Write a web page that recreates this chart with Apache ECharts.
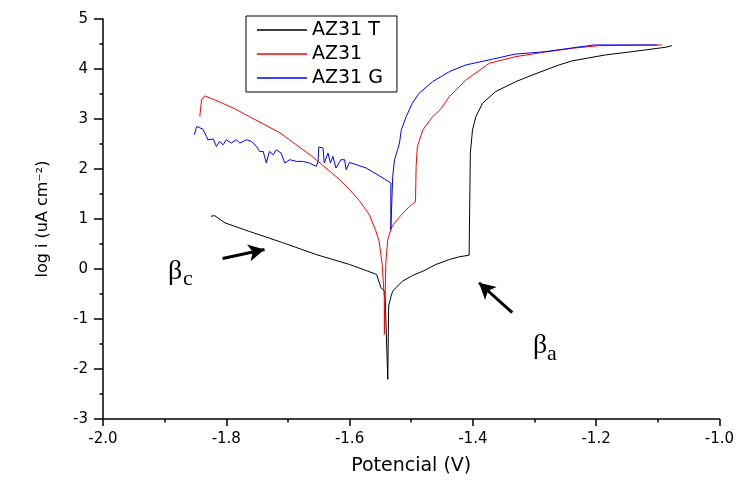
<!DOCTYPE html>
<html>
<head>
<meta charset="utf-8">
<script src="https://cdn.jsdelivr.net/npm/echarts@6/dist/echarts.min.js"></script>
<style>
  html, body { margin: 0; padding: 0; background: #fff; }
  #chart { width: 737px; height: 481px; }
</style>
</head>
<body>
<div id="chart"></div>
<script>
// [potential V, log i]
const az31T = [
  [-1.825, 1.054], [-1.819, 1.068], [-1.802, 0.922], [-1.762, 0.749], [-1.709, 0.529],
  [-1.654, 0.289], [-1.600, 0.090], [-1.573, -0.030], [-1.556, -0.110], [-1.549, -0.375],
  [-1.543, -0.443], [-1.542, -0.643], [-1.538, -2.206], [-1.5365, -0.743], [-1.5343, -0.709],
  [-1.5326, -0.543], [-1.530, -0.443], [-1.5245, -0.369], [-1.514, -0.244], [-1.498, -0.130],
  [-1.481, -0.044], [-1.460, 0.090], [-1.438, 0.190], [-1.422, 0.244], [-1.406, 0.276],
  [-1.404, 0.289], [-1.404, 2.319], [-1.4005, 2.784], [-1.395, 3.050], [-1.384, 3.317],
  [-1.363, 3.549], [-1.330, 3.749], [-1.303, 3.882], [-1.260, 4.082], [-1.239, 4.162],
  [-1.185, 4.281], [-1.1415, 4.347], [-1.139, 4.381], [-1.087, 4.435], [-1.077, 4.467]
];
const az31 = [
  [-1.843, 3.050], [-1.840, 3.383], [-1.835, 3.463], [-1.811, 3.343], [-1.786, 3.204],
  [-1.762, 3.044], [-1.713, 2.725], [-1.660, 2.246], [-1.616, 1.786], [-1.600, 1.587],
  [-1.584, 1.367], [-1.568, 1.088], [-1.558, 0.788], [-1.552, 0.549], [-1.547, 0.090],
  [-1.545, -0.309], [-1.5435, -0.609], [-1.5435, -1.307], [-1.5425, -0.609], [-1.541, 0.150],
  [-1.538, 0.589], [-1.532, 0.828], [-1.524, 0.968], [-1.514, 1.108], [-1.503, 1.248],
  [-1.493, 1.347], [-1.492, 2.046], [-1.490, 2.445], [-1.481, 2.784], [-1.465, 3.050],
  [-1.452, 3.198], [-1.438, 3.449], [-1.411, 3.782], [-1.373, 4.116], [-1.330, 4.248],
  [-1.282, 4.341], [-1.239, 4.415], [-1.195, 4.467], [-1.093, 4.481]
];
const az31G = [
  [-1.852, 2.685], [-1.848, 2.850], [-1.846, 2.864], [-1.838, 2.798], [-1.832, 2.651],
  [-1.830, 2.585], [-1.821, 2.599], [-1.816, 2.451], [-1.811, 2.551], [-1.805, 2.485],
  [-1.800, 2.585], [-1.792, 2.519], [-1.784, 2.585], [-1.778, 2.519], [-1.767, 2.585],
  [-1.759, 2.551], [-1.751, 2.451], [-1.746, 2.351], [-1.740, 2.351], [-1.735, 2.120],
  [-1.730, 2.351], [-1.724, 2.285], [-1.719, 2.385], [-1.711, 2.319], [-1.705, 2.120],
  [-1.697, 2.186], [-1.686, 2.152], [-1.676, 2.152], [-1.665, 2.120], [-1.654, 2.052],
  [-1.651, 2.152], [-1.650, 2.439], [-1.643, 2.419], [-1.641, 2.120], [-1.635, 2.319],
  [-1.631, 2.120], [-1.627, 2.252], [-1.622, 2.020], [-1.614, 2.186], [-1.608, 2.186],
  [-1.6055, 1.986], [-1.600, 2.132], [-1.573, 2.020], [-1.552, 1.866], [-1.533, 1.721],
  [-1.533, 0.788], [-1.530, 1.852], [-1.527, 2.186], [-1.522, 2.385], [-1.519, 2.519],
  [-1.516, 2.784], [-1.508, 3.050], [-1.498, 3.317], [-1.487, 3.517], [-1.465, 3.749],
  [-1.438, 3.948], [-1.411, 4.082], [-1.368, 4.196], [-1.333, 4.295], [-1.282, 4.347],
  [-1.2035, 4.481], [-1.101, 4.481]
];
const seriesNames = ['AZ31 T', 'AZ31', 'AZ31 G'];
const seriesColors = ['#000000', '#ff0000', '#0000ff'];
const xTicks = { min: -2.0, max: -1.0, step: 0.2 };
const yTicks = { min: -3, max: 5, step: 1 };
// arrows: [tail, head]
const arrowC = [[-1.806, 0.210], [-1.738, 0.389]];
const arrowA = [[-1.336, -0.874], [-1.390, -0.275]];

const chart = echarts.init(document.getElementById('chart'), null, { renderer: 'canvas' });

const font = 'DejaVu Sans';
const serif = 'Liberation Serif';

const option = {
  animation: false,
  backgroundColor: '#fff',
  grid: { left: 103, right: 16, top: 19, bottom: 61 },
  legend: {
    data: seriesNames,
    orient: 'vertical',
    left: 246,
    top: 16,
    padding: [4, 14, 4, 11],
    icon: 'rect',
    itemWidth: 50,
    itemHeight: 1.5,
    itemGap: 4,
    borderColor: '#000',
    borderWidth: 1,
    textStyle: { fontFamily: font, fontSize: 19, color: '#000', lineHeight: 20 }
  },
  xAxis: {
    type: 'value',
    min: xTicks.min,
    max: xTicks.max,
    interval: xTicks.step,
    name: 'Potencial (V)',
    nameLocation: 'middle',
    nameGap: 38,
    nameTextStyle: { fontFamily: font, fontSize: 19, color: '#000' },
    axisLine: { onZero: false, lineStyle: { color: '#000', width: 1.5 } },
    axisTick: { inside: false, length: 7, lineStyle: { color: '#000', width: 1.5 } },
    minorTick: { show: true, splitNumber: 2, length: 3.5, lineStyle: { color: '#000', width: 1.5 } },
    splitLine: { show: false },
    axisLabel: {
      fontFamily: font, fontSize: 15, color: '#000', margin: 13,
      formatter: v => v.toFixed(1)
    }
  },
  yAxis: {
    type: 'value',
    min: yTicks.min,
    max: yTicks.max,
    interval: yTicks.step,
    name: 'log i (uA cm\u207B\u00B2)',
    nameLocation: 'middle',
    nameGap: 52,
    nameTextStyle: { fontFamily: font, fontSize: 16, color: '#000' },
    axisLine: { onZero: false, lineStyle: { color: '#000', width: 1.5 } },
    axisTick: { inside: false, length: 9, lineStyle: { color: '#000', width: 1.5 } },
    minorTick: { show: true, splitNumber: 2, length: 3.5, lineStyle: { color: '#000', width: 1.5 } },
    splitLine: { show: false },
    axisLabel: { fontFamily: font, fontSize: 15, color: '#000', margin: 15 }
  },
  series: [az31T, az31, az31G].map((d, i) => ({
    name: seriesNames[i],
    type: 'line',
    data: d,
    showSymbol: false,
    symbol: 'none',
    lineStyle: { color: seriesColors[i], width: 1 },
    itemStyle: { color: seriesColors[i] },
    z: 2 + i,
    markLine: i === 0 ? {
      silent: true,
      symbol: ['none', 'arrow'],
      symbolSize: [13, 16],
      label: { show: false },
      lineStyle: { color: '#000', width: 3, type: 'solid' },
      data: [arrowC, arrowA].map(a => [{ coord: a[0] }, { coord: a[1] }])
    } : undefined
  })),
  graphic: [
    { type: 'text', left: 168, top: 258, style: { text: 'β', font: '28px ' + serif, fill: '#000' } },
    { type: 'text', left: 183, top: 268, style: { text: 'c', font: '22px ' + serif, fill: '#000' } },
    { type: 'text', left: 533, top: 332, style: { text: 'β', font: '28px ' + serif, fill: '#000' } },
    { type: 'text', left: 547, top: 343, style: { text: 'a', font: '22px ' + serif, fill: '#000' } }
  ]
};

chart.setOption(option);
</script>
</body>
</html>
